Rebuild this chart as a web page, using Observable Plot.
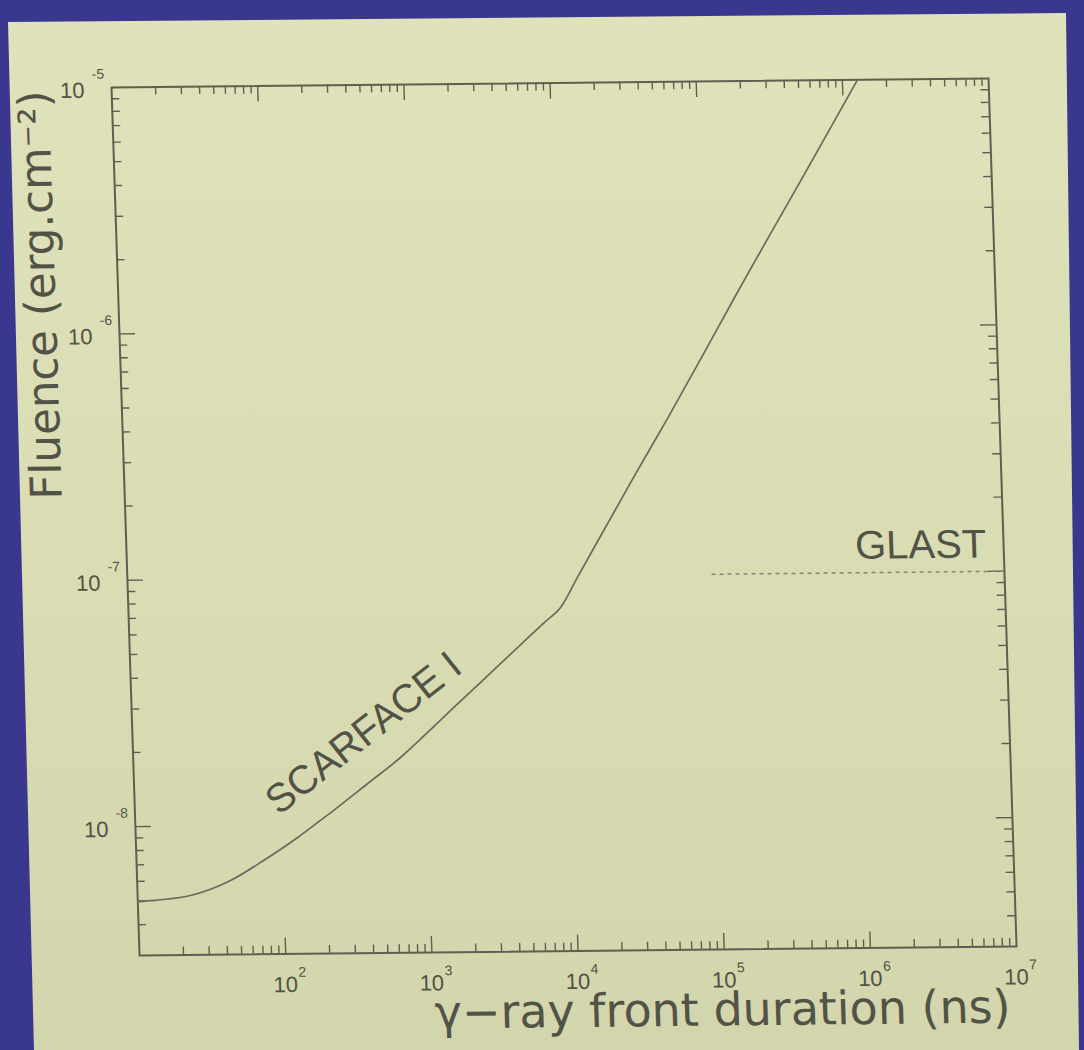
<!DOCTYPE html>
<html><head><meta charset="utf-8">
<script src="https://cdn.jsdelivr.net/npm/d3@7"></script>
<script src="https://cdn.jsdelivr.net/npm/@observablehq/plot@0.6"></script>
<style>
html,body{margin:0;padding:0;width:1084px;height:1050px;overflow:hidden;background:#3a378f;}
#paper{position:absolute;left:0;top:0;width:1084px;height:1050px;
  background:linear-gradient(180deg,#dfe2ba 0%,#dadcb4 55%,#d3d5ad 100%);
  clip-path:polygon(8px 22px,1066px 13px,1079px 1050px,34px 1050px);}
#chart{position:absolute;left:0;top:0;width:1084px;height:1050px;}
</style></head><body><div id="paper"></div><div id="chart"></div>
<script>
// ---- data ----
const durations = [10, 12.2, 15, 23, 43.5, 74, 128, 176, 228, 395, 674, 1150, 1700, 3050, 5290, 7000, 9040, 12000, 30500, 53600, 92900, 161000, 610000, 1270000];
const fluences  = [4.95e-9, 5.0e-9, 5.05e-9, 5.23e-9, 5.99e-9, 7.2e-9, 8.9e-9, 1.02e-8, 1.14e-8, 1.46e-8, 1.86e-8, 2.47e-8, 3.05e-8, 4.17e-8, 5.6e-8, 6.5e-8, 7.44e-8, 9.86e-8, 2.49e-7, 4.3e-7, 7.45e-7, 1.3e-6, 4.83e-6, 1e-5];
const glastDurations = [1e5, 1e7];
const glastFluences = [1e-7, 1e-7];
const xTicks = [1e2, 1e3, 1e4, 1e5, 1e6, 1e7];
const xTickExps = ["2", "3", "4", "5", "6", "7"];
const yTicks = [1e-5, 1e-6, 1e-7, 1e-8];
const yTickExps = ["-5", "-6", "-7", "-8"];
const labelNames = ["SCARFACE I", "GLAST"];
const labelX = [381, 7.6e6];
const labelY = [2.34e-8, 1.14e-7];
const xTitle = "γ−ray front duration (ns)";
const yTitle = "Fluence (erg.cm⁻²)";
const xDomain = [10, 1e7];
const yDomain = [3e-9, 1e-5];

// ---- layout ----
const W = 1084, H = 1050;
const mL = 111, mT = 87, fW = 877, fH = 868;
const mR = W - mL - fW, mB = H - mT - fH;
const ink = "#525346";
const frameInk = "#5e5f51";
const lineInk = "#6a6b5d";

const curve = durations.map((t, i) => ({t, f: fluences[i]}));
const glast = glastDurations.map((t, i) => ({t, f: glastFluences[i]}));
const xLab = xTicks.map((v, i) => ({v, e: xTickExps[i]}));
const yLab = yTicks.map((v, i) => ({v, e: yTickExps[i]}));

const xMinor = [], yMinor = [];
for (let e = 1; e < 7; e++) for (let m = 2; m <= 9; m++) xMinor.push(m * 10 ** e);
for (let e = -9; e < -5; e++) for (let m = 2; m <= 9; m++) { const v = m * 10 ** e; if (v > 3.01e-9 && v < 1e-5) yMinor.push(v); }
const xMajor = xTicks.filter(v => v > xDomain[0] && v < xDomain[1]);
const yMajor = yTicks.filter(v => v > yDomain[0] && v < yDomain[1]);

const minorLen = 8, majorLen = 16;
const tickStyle = {stroke: frameInk, strokeWidth: 1.4};

const chart = Plot.plot({
  width: W, height: H,
  marginLeft: mL, marginTop: mT, marginRight: mR, marginBottom: mB,
  x: {type: "log", domain: xDomain, axis: null},
  y: {type: "log", domain: yDomain, axis: null},
  style: {background: "transparent", color: ink, fontFamily: "'Liberation Sans', Arial, sans-serif", overflow: "visible"},
  marks: [
    // ticks, inward on all four sides
    Plot.tickX(xMinor, {x: d => d, insetTop: fH - minorLen, ...tickStyle}),
    Plot.tickX(xMinor, {x: d => d, insetBottom: fH - minorLen, ...tickStyle}),
    Plot.tickX(xMajor, {x: d => d, insetTop: fH - majorLen, ...tickStyle}),
    Plot.tickX(xMajor, {x: d => d, insetBottom: fH - majorLen, ...tickStyle}),
    Plot.tickY(yMinor, {y: d => d, insetRight: fW - minorLen, ...tickStyle}),
    Plot.tickY(yMinor, {y: d => d, insetLeft: fW - minorLen, ...tickStyle}),
    Plot.tickY(yMajor, {y: d => d, insetRight: fW - majorLen, ...tickStyle}),
    Plot.tickY(yMajor, {y: d => d, insetLeft: fW - majorLen, ...tickStyle}),
    Plot.frame({stroke: frameInk, strokeWidth: 2}),
    // tick labels 10^n
    Plot.text(xLab, {x: "v", text: () => "10", frameAnchor: "bottom", textAnchor: "middle", lineAnchor: "bottom", dx: -1, dy: 38, fontSize: 22, fill: ink}),
    Plot.text(xLab, {x: "v", text: "e", frameAnchor: "bottom", textAnchor: "start", lineAnchor: "bottom", dx: 12, dy: 23, fontSize: 14, fill: ink}),
    Plot.text(yLab, {y: "v", text: () => "10", frameAnchor: "left", textAnchor: "end", lineAnchor: "bottom", dx: -27, dy: 10, fontSize: 22, fill: ink}),
    Plot.text(yLab, {y: "v", text: "e", frameAnchor: "left", textAnchor: "end", lineAnchor: "bottom", dx: -7, dy: -9, fontSize: 14, fill: ink}),
    // data
    Plot.line(glast, {x: "t", y: "f", stroke: "#85867a", strokeWidth: 1.5, strokeDasharray: "3,5"}),
    Plot.line(curve, {x: "t", y: "f", stroke: lineInk, strokeWidth: 1.7, curve: "monotone-x"}),
    // labels
    Plot.text([0], {x: () => labelX[0], y: () => labelY[0], text: () => labelNames[0], rotate: -37, textAnchor: "middle", lineAnchor: "middle", fontSize: 40, fill: ink}),
    Plot.text([1], {x: () => labelX[1], y: () => labelY[1], text: () => labelNames[1], textAnchor: "end", lineAnchor: "bottom", fontSize: 40, fill: ink}),
    // axis titles
    Plot.text([xTitle], {text: d => d, frameAnchor: "bottom-right", textAnchor: "end", lineAnchor: "bottom", dx: -8, dy: 76, fontSize: 46, fontFamily: "'DejaVu Sans', sans-serif", fill: ink}),
    Plot.text([yTitle], {text: d => d, frameAnchor: "top-left", rotate: -90, textAnchor: "end", lineAnchor: "bottom", dx: -63, dy: 2, fontSize: 43.5, fontFamily: "'DejaVu Sans', sans-serif", fill: ink})
  ]
});
chart.style.position = "absolute";
chart.style.left = "0px";
chart.style.top = "0px";
chart.style.transformOrigin = mL + "px " + mT + "px";
chart.style.transform = "matrix(1,-0.0103,0.0323,1,0,0)";
document.getElementById("chart").appendChild(chart);
</script>
</body></html>
